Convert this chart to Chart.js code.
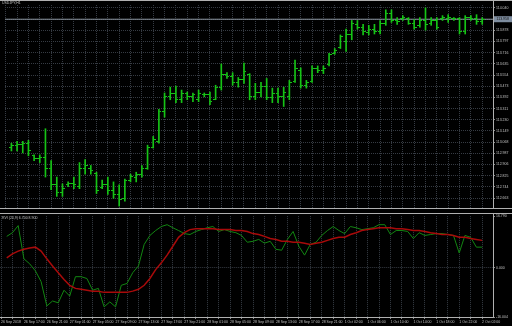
<!DOCTYPE html>
<html lang="en">
<head>
<meta charset="UTF-8">
<title>USDJPY,H1</title>
<script src="https://cdn.jsdelivr.net/npm/chart.js"></script>
<style>
  body { margin: 0; background: #000; width: 512px; height: 326px; overflow: hidden; position: relative; }
  canvas { position: absolute; left: 0; }
  #priceChart { top: 0; }
  #rviChart { top: 213px; }
</style>
</head>
<body>
<canvas id="priceChart" width="512" height="213"></canvas>
<canvas id="rviChart" width="512" height="113"></canvas>

<script>
// ---- data ----
const symbolTitle = 'USDJPY,H1';
const rviName = 'RVI (24,9)';

const timeLabels = ['26 Sep 2018', '26 Sep 17:00', '26 Sep 21:00', '27 Sep 01:00', '27 Sep 05:00', '27 Sep 09:00',
    '27 Sep 13:00', '27 Sep 17:00', '27 Sep 21:00', '28 Sep 01:00', '28 Sep 05:00', '28 Sep 09:00',
    '28 Sep 13:00', '28 Sep 17:00', '28 Sep 21:00', '1 Oct 02:00', '1 Oct 06:00', '1 Oct 10:00',
    '1 Oct 14:00', '1 Oct 18:00', '1 Oct 22:00', '2 Oct 02:00'];

const opens = [113.030, 113.040, 113.050, 113.060, 112.970, 112.950, 112.960, 112.880, 112.760, 112.700,
    112.760, 112.770, 112.750, 112.880, 112.880, 112.840, 112.740, 112.760, 112.720, 112.690,
    112.660, 112.790, 112.810, 112.830, 112.880, 113.030, 113.070, 113.290, 113.400, 113.420,
    113.380, 113.420, 113.400, 113.380, 113.410, 113.410, 113.380, 113.460, 113.560, 113.540,
    113.500, 113.520, 113.560, 113.400, 113.430, 113.470, 113.390, 113.420, 113.400, 113.400,
    113.510, 113.590, 113.480, 113.510, 113.600, 113.590, 113.630, 113.710, 113.750, 113.800,
    113.850, 113.920, 113.900, 113.860, 113.880, 113.870, 113.930, 114.000, 113.950, 113.960,
    113.960, 113.930, 113.910, 113.950, 113.930, 113.950, 113.960, 113.960, 113.960, 113.960,
    113.870, 113.970, 113.960, 113.940];
const highs = [113.060, 113.074, 113.074, 113.081, 112.976, 112.976, 113.165, 112.934, 112.815, 112.766,
    112.780, 112.815, 112.920, 112.941, 112.899, 112.850, 112.794, 112.815, 112.780, 112.759,
    112.801, 112.836, 112.850, 112.899, 113.046, 113.109, 113.305, 113.424, 113.466, 113.473,
    113.445, 113.431, 113.424, 113.445, 113.424, 113.431, 113.480, 113.634, 113.571, 113.571,
    113.536, 113.641, 113.564, 113.494, 113.501, 113.529, 113.459, 113.459, 113.466, 113.515,
    113.662, 113.606, 113.515, 113.620, 113.620, 113.620, 113.711, 113.746, 113.844, 113.886,
    113.949, 113.949, 113.921, 113.914, 113.921, 113.949, 114.026, 114.026, 113.970, 113.984,
    113.970, 113.956, 113.970, 114.040, 113.970, 113.970, 113.984, 113.991, 113.970, 113.970,
    113.984, 113.984, 113.991, 113.970];
const lows = [113.004, 113.004, 112.990, 112.969, 112.934, 112.920, 112.815, 112.724, 112.675, 112.675,
    112.745, 112.731, 112.731, 112.836, 112.836, 112.696, 112.731, 112.689, 112.661, 112.605,
    112.640, 112.780, 112.780, 112.815, 112.871, 113.025, 113.060, 113.249, 113.375, 113.354,
    113.354, 113.375, 113.361, 113.361, 113.396, 113.340, 113.375, 113.445, 113.529, 113.480,
    113.466, 113.494, 113.375, 113.375, 113.396, 113.375, 113.354, 113.354, 113.326, 113.375,
    113.501, 113.459, 113.459, 113.501, 113.571, 113.564, 113.620, 113.704, 113.746, 113.725,
    113.809, 113.886, 113.844, 113.844, 113.851, 113.851, 113.914, 113.935, 113.921, 113.949,
    113.921, 113.886, 113.900, 113.879, 113.914, 113.886, 113.949, 113.935, 113.949, 113.851,
    113.851, 113.949, 113.921, 113.921];
const closes = [113.040, 113.050, 113.060, 113.010, 112.950, 112.960, 112.880, 112.760, 112.700, 112.730,
    112.770, 112.760, 112.880, 112.900, 112.860, 112.720, 112.760, 112.720, 112.690, 112.650,
    112.790, 112.820, 112.830, 112.880, 113.030, 113.090, 113.290, 113.400, 113.420, 113.380,
    113.420, 113.400, 113.410, 113.420, 113.410, 113.360, 113.460, 113.560, 113.540, 113.500,
    113.520, 113.580, 113.400, 113.430, 113.470, 113.390, 113.420, 113.400, 113.430, 113.500,
    113.600, 113.480, 113.500, 113.600, 113.590, 113.600, 113.700, 113.730, 113.830, 113.850,
    113.930, 113.900, 113.870, 113.880, 113.870, 113.930, 114.000, 113.950, 113.940, 113.970,
    113.930, 113.900, 113.950, 113.920, 113.950, 113.900, 113.970, 113.970, 113.960, 113.870,
    113.970, 113.960, 113.940, 113.958];

const rviMain = [10.2, 11.4, 13.7, 2.9, 1.3, -1.0, -4.5, -12.4, -10.8, -11.4,
    -7.3, -9.2, -2.9, -2.9, -3.5, -7.3, -6.7, -12.7, -11.1, -12.7,
    -5.7, -5.1, -1.6, 0.6, 7.6, 10.5, 12.1, 13.4, 14.0, 13.0,
    12.1, 11.1, 10.8, 11.8, 12.4, 13.0, 13.4, 11.8, 12.4, 11.8,
    11.4, 10.5, 8.3, 8.6, 9.2, 8.0, 8.6, 6.0, 5.7, 9.2,
    11.8, 7.0, 4.1, 7.6, 8.3, 10.5, 12.1, 13.4, 12.1, 11.1,
    13.4, 13.0, 12.4, 12.7, 13.0, 14.0, 14.0, 10.8, 12.1, 12.1,
    11.8, 9.5, 11.4, 10.5, 10.8, 11.1, 11.1, 10.8, 10.5, 4.8,
    10.5, 9.9, 6.7, 6.7];
const rviSignal = [3.2, 4.5, 5.4, 6.0, 6.4, 6.7, 5.4, 2.9, 0.6, -1.6,
    -3.8, -5.7, -6.7, -7.0, -7.3, -7.6, -7.6, -8.0, -8.0, -8.0,
    -8.0, -8.0, -7.6, -7.0, -5.7, -3.5, -0.6, 1.6, 4.1, 7.0,
    9.9, 11.4, 12.4, 12.7, 12.7, 12.7, 12.7, 12.4, 12.4, 12.4,
    12.1, 12.1, 11.8, 11.1, 10.8, 10.2, 9.5, 9.2, 8.6, 8.6,
    8.3, 8.3, 8.0, 7.6, 8.0, 8.3, 8.9, 9.5, 9.9, 9.9,
    10.8, 11.4, 12.1, 12.4, 12.7, 13.0, 13.0, 13.0, 12.7, 12.7,
    12.4, 12.1, 12.1, 11.8, 11.4, 11.1, 10.8, 10.8, 10.5, 9.9,
    9.9, 9.5, 9.2, 8.9];

const priceTicks = [114.040, 113.959, 113.878, 113.797, 113.716, 113.635, 113.554, 113.473, 113.392,
    113.311, 113.230, 113.149, 113.068, 112.987, 112.906, 112.825, 112.744, 112.663];
const rviTicks = [16.790, 0, -16.004];

// ---- layout ----
const xMin = -1.13, xMax = 84.9;          // bar index range across the plot width
const priceMin = 112.591, priceMax = 114.061;
const gridBars = [];
for (let b = -1; b <= 84; b += 2) gridBars.push(b);

const barGreen = '#16c416';
const gridColor = '#363b43';
const textColor = '#c0c0c0';
const frameColor = '#b0b0b0';
const font = { family: '"Liberation Sans", Arial, sans-serif', size: 3.5 };
const lastClose = closes[closes.length - 1];

function tickImage(side) {
    const c = document.createElement('canvas');
    c.width = 5; c.height = 1;
    const g = c.getContext('2d');
    g.fillStyle = barGreen;
    g.fillRect(side === 'left' ? 0 : 3, 0, 2, 1);
    return c;
}

const framePlugin = {
    id: 'panelFrame',
    afterDraw(chart, args, opts) {
        const { ctx, chartArea: a, width } = chart;
        const right = Math.round(a.right) + 0.5;
        ctx.save();
        ctx.strokeStyle = frameColor;
        ctx.lineWidth = 1;
        ctx.beginPath();
        if (opts.topLine != null) { ctx.moveTo(0, opts.topLine); ctx.lineTo(opts.topFull ? width : right, opts.topLine); }
        const bottom = Math.round(a.bottom) + 0.5;
        ctx.moveTo(0, bottom); ctx.lineTo(opts.bottomFull ? width : right, bottom);
        ctx.moveTo(right, 0); ctx.lineTo(right, bottom);
        ctx.stroke();

        ctx.fillStyle = textColor;
        ctx.font = font.size + 'px ' + font.family;
        ctx.textBaseline = 'top';
        ctx.fillText(opts.text, 2, opts.textY);

        if (opts.priceBox) {
            const y = chart.scales.y.getPixelForValue(lastClose);
            ctx.fillStyle = '#7f8ea0';
            ctx.fillRect(right + 0.5, y - 3, width - right, 6);
            ctx.fillStyle = '#101010';
            ctx.textBaseline = 'middle';
            ctx.fillText(lastClose.toFixed(3), right + 3, y);
        }
        ctx.restore();
    }
};

// ---- price panel ----
new Chart(document.getElementById('priceChart'), {
    type: 'bar',
    data: {
        datasets: [
            {
                data: highs.map((h, i) => ({ x: i, y: [lows[i], h] })),
                backgroundColor: barGreen,
                borderWidth: 0,
                barThickness: 1,
                grouped: false,
                order: 1
            },
            {
                type: 'scatter',
                data: opens.map((o, i) => ({ x: i, y: o })),
                pointStyle: tickImage('left'),
                pointRadius: 2,
                order: 1
            },
            {
                type: 'scatter',
                data: closes.map((c, i) => ({ x: i, y: c })),
                pointStyle: tickImage('right'),
                pointRadius: 2,
                order: 1
            },
            {
                type: 'line',
                data: [{ x: xMin, y: lastClose }, { x: xMax, y: lastClose }],
                borderColor: '#8a949f',
                borderWidth: 1,
                pointRadius: 0,
                order: 5
            }
        ]
    },
    options: {
        responsive: false,
        animation: false,
        events: [],
        layout: { padding: { top: 2, bottom: 1, left: 0, right: 0 } },
        plugins: {
            legend: { display: false },
            tooltip: { enabled: false },
            panelFrame: { text: symbolTitle, textY: 1, topLine: 0.5, topFull: true, bottomFull: true, priceBox: true }
        },
        scales: {
            x: {
                type: 'linear', min: xMin, max: xMax, offset: false,
                afterBuildTicks: s => { s.ticks = gridBars.map(v => ({ value: v })); },
                afterFit: s => { s.height = 0; },
                ticks: { display: false },
                grid: { color: gridColor, drawTicks: false, offset: false },
                border: { display: false, dash: [1, 1] }
            },
            y: {
                position: 'right', min: priceMin, max: priceMax,
                afterBuildTicks: s => { s.ticks = priceTicks.map(v => ({ value: v })); },
                afterFit: s => { s.width = 19; },
                ticks: { color: textColor, font: font, padding: 1, callback: v => v.toFixed(3) },
                grid: { color: gridColor, tickLength: 2, tickColor: '#8a8a8a' },
                border: { display: false, dash: [1, 1] }
            }
        }
    },
    plugins: [framePlugin]
});

// ---- RVI panel ----
new Chart(document.getElementById('rviChart'), {
    type: 'line',
    data: {
        datasets: [
            {
                data: rviMain.map((v, i) => ({ x: i, y: v })),
                borderColor: '#128612',
                borderWidth: 1,
                pointRadius: 0,
                order: 1
            },
            {
                data: rviSignal.map((v, i) => ({ x: i, y: v })),
                borderColor: '#a80a0a',
                borderWidth: 1.5,
                pointRadius: 0,
                order: 0
            }
        ]
    },
    options: {
        responsive: false,
        animation: false,
        events: [],
        layout: { padding: { top: 1, bottom: 0, left: 0, right: 0 } },
        plugins: {
            legend: { display: false },
            tooltip: { enabled: false },
            panelFrame: {
                text: rviName + ' ' + rviMain[rviMain.length - 1].toFixed(3) + ' ' + rviSignal[rviSignal.length - 1].toFixed(3),
                textY: 3, topLine: 0.5, topFull: true, bottomFull: false
            }
        },
        scales: {
            x: {
                type: 'linear', min: xMin, max: xMax, offset: false,
                afterBuildTicks: s => { s.ticks = gridBars.map(v => ({ value: v })); },
                afterFit: s => { s.height = 9; },
                ticks: {
                    color: textColor, font: font, padding: 1, align: 'start',
                    autoSkip: false, maxRotation: 0, minRotation: 0,
                    callback: v => {
                        const k = (v + 1) / 4;
                        return Number.isInteger(k) && timeLabels[k] ? timeLabels[k] : '';
                    }
                },
                grid: { color: gridColor, tickLength: 2, tickColor: '#8a8a8a', offset: false },
                border: { display: false, dash: [1, 1] }
            },
            y: {
                position: 'right', min: rviTicks[2], max: rviTicks[0],
                afterBuildTicks: s => { s.ticks = rviTicks.map(v => ({ value: v })); },
                afterFit: s => { s.width = 19; },
                ticks: { color: textColor, font: font, padding: 1, callback: v => v.toFixed(3) },
                grid: {
                    color: c => (c.tick && c.tick.value === 0 ? gridColor : 'rgba(0,0,0,0)'),
                    tickLength: 2, tickColor: '#8a8a8a'
                },
                border: { display: false, dash: [1, 1] }
            }
        }
    },
    plugins: [framePlugin]
});
</script>
</body>
</html>
